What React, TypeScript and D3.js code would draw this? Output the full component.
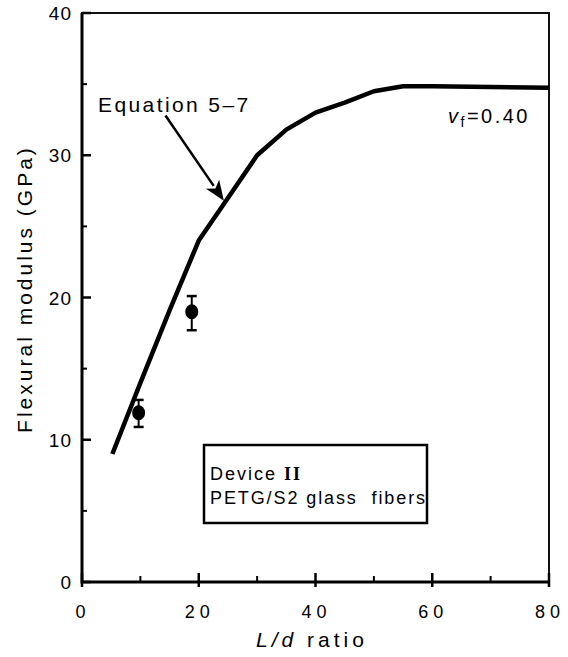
import { useEffect, useRef } from "react";
import * as d3 from "d3";

// Equation 5-7 curve (L/d ratio, flexural modulus GPa)
const curveLd = [5.2, 10, 15, 20, 25, 30, 35, 40, 45, 50, 55, 60, 70, 80];
const curveMod = [9.0, 14.0, 19.1, 24.0, 27.0, 30.0, 31.8, 33.0, 33.7, 34.5, 34.85, 34.85, 34.8, 34.75];

// measured points with error bars
const pointLd = [9.7, 18.8];
const pointMod = [11.9, 19.0];
const pointLow = [10.9, 17.7];
const pointHigh = [12.8, 20.1];

const yTicks = [0, 10, 20, 30, 40];
const yMinor = [5, 15, 25, 35];
const xTicks = [0, 20, 40, 60, 80];
const xMinor = [10, 30, 50, 70];

const W = 568;
const H = 657;
const font = "'Liberation Sans', Arial, sans-serif";

export default function App() {
  const svgRef = useRef<SVGSVGElement>(null);

  useEffect(() => {
    const svg = d3.select(svgRef.current);
    svg.selectAll("*").remove();

    const x = d3.scaleLinear().domain([0, 80]).range([82, 549]);
    const y = d3.scaleLinear().domain([0, 40]).range([582, 13]);

    // frame
    svg.append("rect")
      .attr("x", x(0)).attr("y", y(40))
      .attr("width", x(80) - x(0)).attr("height", y(0) - y(40))
      .attr("fill", "none").attr("stroke", "#111").attr("stroke-width", 2);
    // thicker left and bottom axes
    svg.append("path")
      .attr("d", `M${x(0)},${y(40)}V${y(0)}H${x(80)}`)
      .attr("fill", "none").attr("stroke", "#000").attr("stroke-width", 3);

    // y ticks (inward)
    svg.selectAll("line.ymaj").data(yTicks).join("line")
      .attr("x1", x(0)).attr("x2", x(0) + 9)
      .attr("y1", d => y(d)).attr("y2", d => y(d))
      .attr("stroke", "#000").attr("stroke-width", 2.5);
    svg.selectAll("line.ymin").data(yMinor).join("line")
      .attr("x1", x(0)).attr("x2", x(0) + 5)
      .attr("y1", d => y(d)).attr("y2", d => y(d))
      .attr("stroke", "#000").attr("stroke-width", 2);
    svg.selectAll("text.ylab").data(yTicks).join("text")
      .attr("x", 72).attr("y", d => y(d) + 7)
      .attr("text-anchor", "end")
      .attr("font-family", font).attr("font-size", 19)
      .attr("letter-spacing", 1)
      .text(d => d);

    // x ticks (inward)
    svg.selectAll("line.xmaj").data(xTicks).join("line")
      .attr("x1", d => x(d)).attr("x2", d => x(d))
      .attr("y1", y(0) + 5).attr("y2", y(0) - 9)
      .attr("stroke", "#000").attr("stroke-width", 2.5);
    svg.selectAll("line.xmin").data(xMinor).join("line")
      .attr("x1", d => x(d)).attr("x2", d => x(d))
      .attr("y1", y(0)).attr("y2", y(0) - 6)
      .attr("stroke", "#000").attr("stroke-width", 2);
    svg.selectAll("text.xlab").data(xTicks).join("text")
      .attr("x", d => x(d) + 1).attr("y", 618)
      .attr("text-anchor", "middle")
      .attr("font-family", font).attr("font-size", 18)
      .attr("letter-spacing", 5)
      .text(d => d);

    // axis titles
    const xt = svg.append("text")
      .attr("x", 312).attr("y", 647)
      .attr("text-anchor", "middle")
      .attr("font-family", font).attr("font-size", 21)
      .attr("letter-spacing", 4);
    xt.append("tspan").attr("font-style", "italic").text("L/d");
    xt.append("tspan").text(" ratio");

    svg.append("text")
      .attr("transform", `translate(32, 289) rotate(-90)`)
      .attr("text-anchor", "middle")
      .attr("font-family", font).attr("font-size", 21)
      .attr("letter-spacing", 3)
      .text("Flexural modulus (GPa)");

    // curve
    const line = d3.line<number>()
      .x((d, i) => x(curveLd[i]))
      .y(d => y(d));
    svg.append("path")
      .datum(curveMod)
      .attr("d", line)
      .attr("fill", "none").attr("stroke", "#000")
      .attr("stroke-width", 4.5).attr("stroke-linejoin", "round");

    // error bars + points
    const pts = pointLd.map((v, i) => ({ ld: v, m: pointMod[i], lo: pointLow[i], hi: pointHigh[i] }));
    const g = svg.append("g");
    g.selectAll("line.err").data(pts).join("line")
      .attr("x1", d => x(d.ld)).attr("x2", d => x(d.ld))
      .attr("y1", d => y(d.hi)).attr("y2", d => y(d.lo))
      .attr("stroke", "#000").attr("stroke-width", 2);
    g.selectAll("line.cap").data(pts.flatMap(d => [{ ld: d.ld, v: d.hi }, { ld: d.ld, v: d.lo }])).join("line")
      .attr("x1", d => x(d.ld) - 5).attr("x2", d => x(d.ld) + 5)
      .attr("y1", d => y(d.v)).attr("y2", d => y(d.v))
      .attr("stroke", "#000").attr("stroke-width", 2.5);
    g.selectAll("ellipse").data(pts).join("ellipse")
      .attr("cx", d => x(d.ld)).attr("cy", d => y(d.m))
      .attr("rx", 6.5).attr("ry", 7.5)
      .attr("fill", "#000");

    // Equation label + arrow
    svg.append("text")
      .attr("x", 98).attr("y", 112)
      .attr("font-family", font).attr("font-size", 21)
      .attr("letter-spacing", 2.4)
      .text("Equation 5\u20137");
    const ax0 = x(14.3), ay0 = y(32.8), ax1 = x(24.3), ay1 = y(26.8);
    const ang = Math.atan2(ay1 - ay0, ax1 - ax0);
    const hl = 20, hw = 8;
    const bx = ax1 - hl * Math.cos(ang), by = ay1 - hl * Math.sin(ang);
    svg.append("line")
      .attr("x1", ax0).attr("y1", ay0).attr("x2", bx + 2 * Math.cos(ang)).attr("y2", by + 2 * Math.sin(ang))
      .attr("stroke", "#000").attr("stroke-width", 2.5);
    svg.append("path")
      .attr("d", `M${ax1},${ay1}L${bx + hw * Math.sin(ang)},${by - hw * Math.cos(ang)}L${bx + 5 * Math.cos(ang)},${by + 5 * Math.sin(ang)}L${bx - hw * Math.sin(ang)},${by + hw * Math.cos(ang)}Z`)
      .attr("fill", "#000");

    // v_f label
    const vt = svg.append("text")
      .attr("x", 448).attr("y", 123)
      .attr("font-family", font).attr("font-size", 20)
      .attr("letter-spacing", 2.5);
    vt.append("tspan").attr("font-style", "italic").text("v");
    vt.append("tspan").attr("font-size", 14).attr("dy", 4).text("f");
    vt.append("tspan").attr("dy", -4).text("=0.40");

    // legend box
    svg.append("rect")
      .attr("x", 204).attr("y", 445).attr("width", 223).attr("height", 78)
      .attr("fill", "#fff").attr("stroke", "#000").attr("stroke-width", 2.5);
    const dv = svg.append("text")
      .attr("x", 210).attr("y", 480)
      .attr("font-family", font).attr("font-size", 18)
      .attr("letter-spacing", 2);
    dv.append("tspan").text("Device ");
    dv.append("tspan")
      .attr("font-family", "'Liberation Serif', 'DejaVu Serif', serif")
      .attr("font-weight", "bold")
      .text("II");
    svg.append("text")
      .attr("x", 210).attr("y", 504)
      .attr("font-family", font).attr("font-size", 18)
      .attr("letter-spacing", 1.9)
      .text("PETG/S2 glass\u00a0 fibers");
  }, []);

  return (
    <svg ref={svgRef} width={W} height={H}
      style={{ position: "absolute", left: 0, top: 0, background: "#fff" }} />
  );
}
